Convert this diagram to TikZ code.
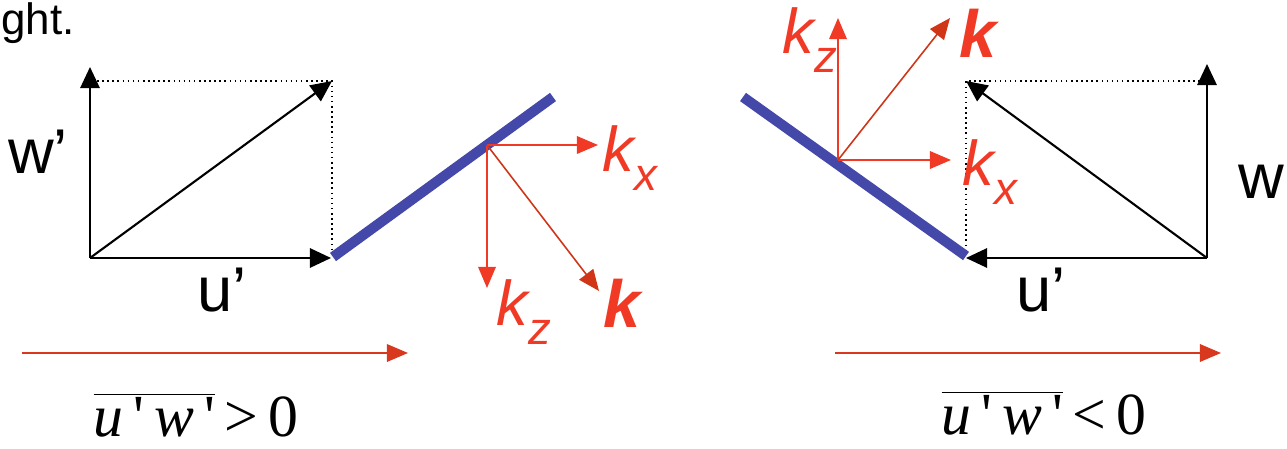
\documentclass[tikz,border=0pt]{standalone}
\usepackage{fontspec}
\setmainfont{Liberation Sans}
\newfontfamily\tms{Liberation Serif}
\usetikzlibrary{arrows.meta}
\definecolor{kred}{HTML}{F03A26}
\definecolor{kdark}{HTML}{D03518}
\definecolor{bar}{HTML}{4448A8}
\definecolor{flow}{HTML}{D8391E}
\tikzset{
  vec/.style={line width=1.2pt,-{Triangle[length=12pt,width=11pt]}},
  dots/.style={line width=0.9pt,dotted},
  kvec/.style={kred,line width=0.9pt,-{Triangle[length=12pt,width=10pt]}},
  kdiag/.style={kdark,line width=0.9pt,-{Triangle[length=12pt,width=10pt]}},
  plate/.style={bar,line width=5.8pt},
  flowarrow/.style={flow,line width=0.9pt,-{Triangle[length=12pt,width=10pt]}},
  lab/.style={font=\fontsize{36}{40}\selectfont,inner sep=0pt},
  klab/.style={kred,font=\fontsize{36}{40}\selectfont\itshape,inner sep=0pt},
  kbold/.style={kred,font=\fontsize{38}{42}\selectfont\bfseries\itshape,inner sep=0pt},
  formula/.style={font=\fontsize{34}{38}\selectfont\tms,inner sep=0pt,anchor=base}
}
\begin{document}
\begin{tikzpicture}[x=0.02cm,y=-0.02cm]
\useasboundingbox (0,0) rectangle (1287,449);
% top-left leftover text
\node[anchor=base west,inner sep=0pt,font=\fontsize{25}{28}\selectfont] (ght) at (1,35) {ght.};

% ---------- left panel ----------
\coordinate (LO) at (90,258);
\coordinate (LW) at (90,67);
\coordinate (LU) at (331,258);
\coordinate (LC) at (332,81);
\coordinate (LCb) at (332,252);
\coordinate (LCl) at (92,81);
\draw[dots] (LCl) -- (LC) -- (LCb);
\draw[vec] (LO) -- (LW);
\draw[vec] (LO) -- (LU);
\draw[vec] (LO) -- (LC);
\node[lab] (wl) at (38,152) {w’};
\node[lab] (ul) at (222,290) {u’};
\coordinate (LP1) at (333,257);
\coordinate (LP2) at (553,97);
\draw[plate] (LP1) -- (LP2);
\coordinate (LK) at (487,145);
\coordinate (LKx) at (598,145);
\coordinate (LKz) at (487,288);
\coordinate (LKk) at (599,291);
\draw[kvec] (LK) -- (LKx);
\draw[kvec] (LK) -- (LKz);
\draw[kdiag] (LK) -- (LKk);
\node[klab] (lkx) at (630,158) {k\raisebox{-0.3em}{\fontsize{26}{30}\selectfont x}};
\node[klab] (lkz) at (524,312) {k\raisebox{-0.3em}{\fontsize{26}{30}\selectfont z}};
\node[kbold] (lkk) at (622,303) {k};
\coordinate (LF1) at (22,353);
\coordinate (LF2) at (408,353);
\draw[flowarrow] (LF1) -- (LF2);
\node[formula] (lform) at (196,436) {$\overline{\hbox{\tms\itshape u\upshape\,'\,\itshape w\upshape\,'}}$\,>\,0};

% ---------- right panel ----------
\coordinate (RO) at (1207,258);
\coordinate (RW) at (1207,64);
\coordinate (RU) at (966,258);
\coordinate (RC) at (966,81);
\coordinate (RCb) at (966,252);
\coordinate (RCr) at (1205,81);
\draw[dots] (RCr) -- (RC) -- (RCb);
\draw[vec] (RO) -- (RW);
\draw[vec] (RO) -- (RU);
\draw[vec] (RO) -- (RC);
\node[lab,anchor=west] (wr) at (1238,182) {w};
\node[lab] (ur) at (1041,290) {u’};
\coordinate (RP1) at (743,97);
\coordinate (RP2) at (966,256);
\draw[plate] (RP1) -- (RP2);
\coordinate (RK) at (838,160);
\coordinate (RKz) at (838,18);
\coordinate (RKk) at (950,18);
\coordinate (RKx) at (951,160);
\draw[kvec] (RK) -- (RKz);
\draw[kvec] (RK) -- (RKx);
\draw[kdiag] (RK) -- (RKk);
\node[klab] (rkz) at (810,40) {k\raisebox{-0.3em}{\fontsize{26}{30}\selectfont z}};
\node[klab] (rkx) at (990,172) {k\raisebox{-0.3em}{\fontsize{26}{30}\selectfont x}};
\node[kbold] (rkk) at (978,33) {k};
\coordinate (RF1) at (835,353);
\coordinate (RF2) at (1221,353);
\draw[flowarrow] (RF1) -- (RF2);
\node[formula] (rform) at (1044,434) {$\overline{\hbox{\tms\itshape u\upshape\,'\,\itshape w\upshape\,'}}$\,<\,0};
\end{tikzpicture}
\end{document}
